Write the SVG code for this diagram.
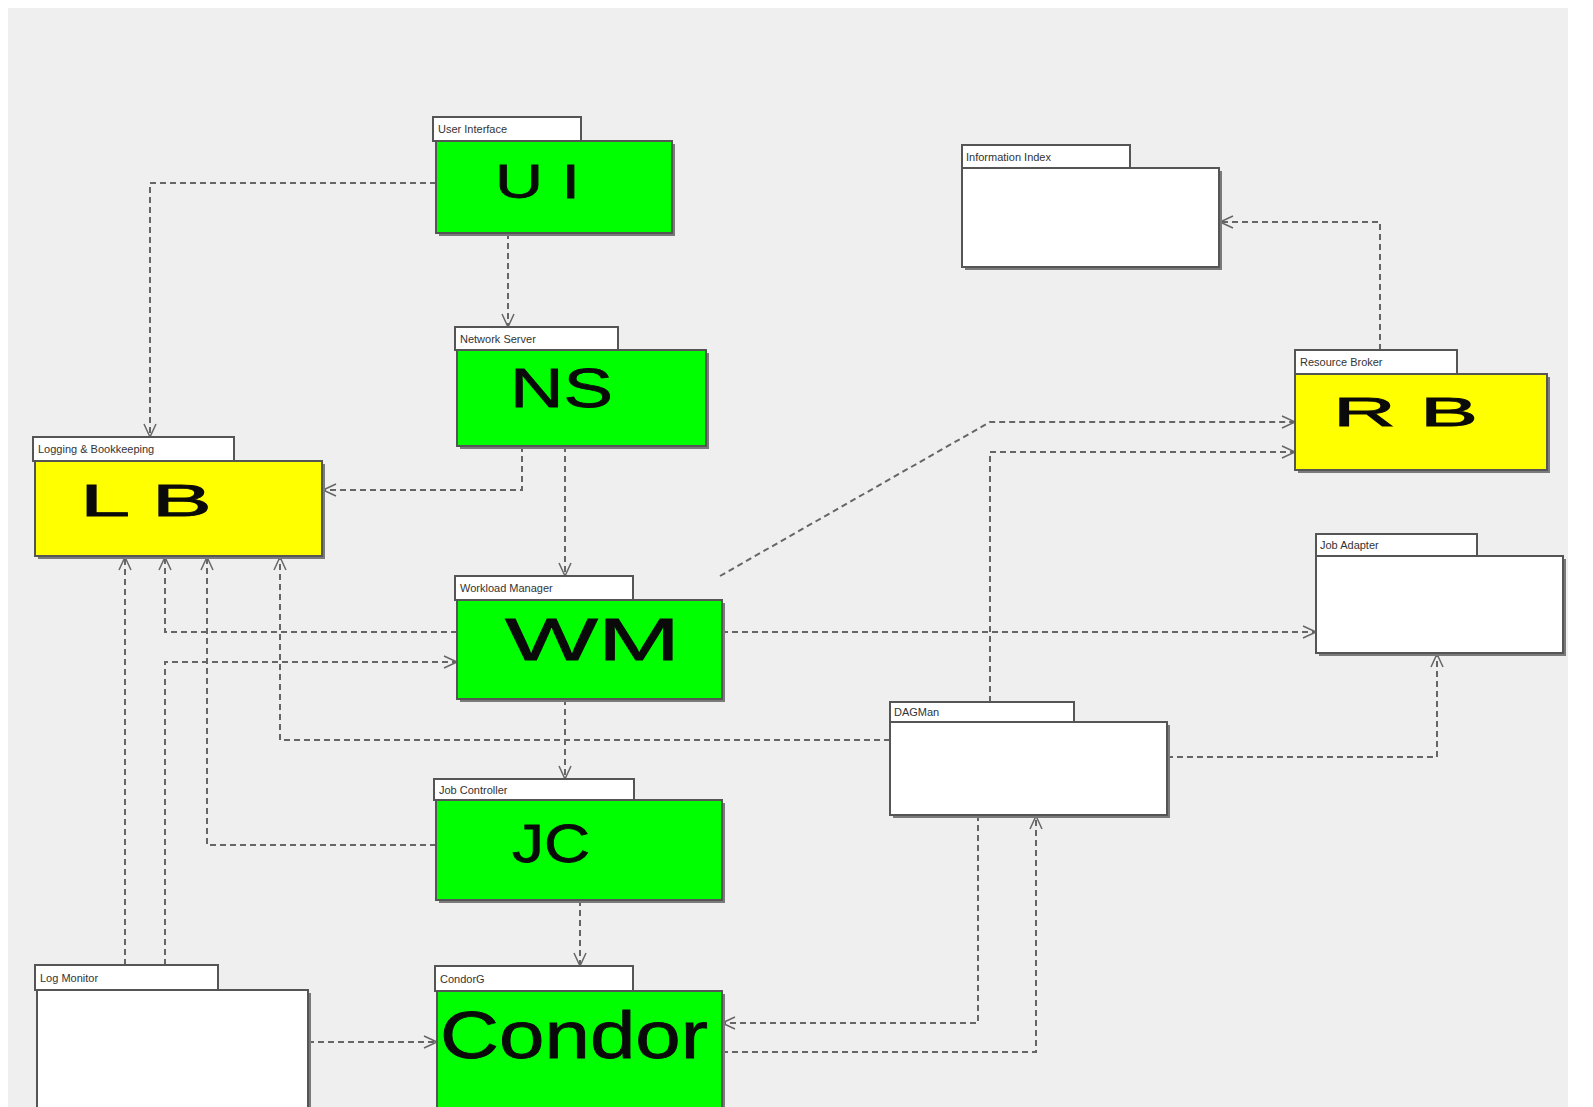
<svg xmlns="http://www.w3.org/2000/svg" width="1593" height="1107" viewBox="0 0 1593 1107">
<defs>
<style>
.tab{fill:#ffffff;stroke:#555555;stroke-width:2}
.body{stroke:#555555;stroke-width:2}
.shadow{fill:#7a7a7a}
.green{fill:#00ff00}
.yellow{fill:#ffff00}
.white{fill:#ffffff}
.tl{font-family:"Liberation Sans",Arial,sans-serif;font-size:11px;fill:#333333}
.big{font-family:"Liberation Sans",Arial,sans-serif;fill:#0a0a0a;stroke:#0a0a0a;stroke-width:0.8}
.c{fill:none;stroke:#666666;stroke-width:2;stroke-dasharray:6 4}
</style>
<marker id="a" markerWidth="16" markerHeight="14" refX="14" refY="7" orient="auto" markerUnits="userSpaceOnUse">
<path d="M1,1 L14,7 L1,13" fill="none" stroke="#666666" stroke-width="1.5"/>
</marker>
</defs>
<rect x="0" y="0" width="1593" height="1107" fill="#ffffff"/>
<rect x="8" y="8" width="1560" height="1099" fill="#efefef"/>

<g id="connectors">
<path class="c" d="M436,183 H150 V437" marker-end="url(#a)"/>
<path class="c" d="M508,233 V327" marker-end="url(#a)"/>
<path class="c" d="M522,446 V490 H323" marker-end="url(#a)"/>
<path class="c" d="M565,446 V576" marker-end="url(#a)"/>
<path class="c" d="M720,576 L990,422 H1295" marker-end="url(#a)"/>
<path class="c" d="M990,702 V452 H1295" marker-end="url(#a)"/>
<path class="c" d="M1380,350 V222 H1220" marker-end="url(#a)"/>
<path class="c" d="M722,632 H1316" marker-end="url(#a)"/>
<path class="c" d="M457,632 H165 V557" marker-end="url(#a)"/>
<path class="c" d="M165,965 V662 H457" marker-end="url(#a)"/>
<path class="c" d="M125,965 V557" marker-end="url(#a)"/>
<path class="c" d="M890,740 H280 V557" marker-end="url(#a)"/>
<path class="c" d="M436,845 H207 V557" marker-end="url(#a)"/>
<path class="c" d="M565,699 V779" marker-end="url(#a)"/>
<path class="c" d="M580,900 V966" marker-end="url(#a)"/>
<path class="c" d="M1167,757 H1437 V654" marker-end="url(#a)"/>
<path class="c" d="M308,1042 H437" marker-end="url(#a)"/>
<path class="c" d="M978,815 V1023 H722" marker-end="url(#a)"/>
<path class="c" d="M722,1052 H1036 V816" marker-end="url(#a)"/>
</g>

<g id="UI">
<rect class="tab" x="433" y="117" width="148" height="24"/>
<text class="tl" x="438" y="133">User Interface</text>
<rect class="shadow" x="439" y="144" width="236" height="92"/>
<rect class="body green" x="436" y="141" width="236" height="92"/>
<text class="big" x="495" y="198" font-size="49" textLength="85" lengthAdjust="spacingAndGlyphs">U I</text>
</g>

<g id="InformationIndex">
<rect class="tab" x="962" y="145" width="168" height="23"/>
<text class="tl" x="966" y="161">Information Index</text>
<rect class="shadow" x="965" y="171" width="257" height="99"/>
<rect class="body white" x="962" y="168" width="257" height="99"/>
</g>

<g id="NS">
<rect class="tab" x="455" y="327" width="163" height="23"/>
<text class="tl" x="460" y="343">Network Server</text>
<rect class="shadow" x="460" y="353" width="249" height="96"/>
<rect class="body green" x="457" y="350" width="249" height="96"/>
<text class="big" x="510" y="407" font-size="56" textLength="103" lengthAdjust="spacingAndGlyphs">NS</text>
</g>

<g id="LB">
<rect class="tab" x="33" y="437" width="201" height="24"/>
<text class="tl" x="38" y="453">Logging &amp; Bookkeeping</text>
<rect class="shadow" x="38" y="464" width="287" height="95"/>
<rect class="body yellow" x="35" y="461" width="287" height="95"/>
<text class="big" x="80" y="516" font-size="44" textLength="132" lengthAdjust="spacingAndGlyphs">L B</text>
</g>

<g id="RB">
<rect class="tab" x="1295" y="350" width="162" height="24"/>
<text class="tl" x="1300" y="366">Resource Broker</text>
<rect class="shadow" x="1298" y="377" width="252" height="96"/>
<rect class="body yellow" x="1295" y="374" width="252" height="96"/>
<text class="big" x="1333" y="426" font-size="40" textLength="145" lengthAdjust="spacingAndGlyphs">R B</text>
</g>

<g id="WM">
<rect class="tab" x="455" y="576" width="178" height="24"/>
<text class="tl" x="460" y="592">Workload Manager</text>
<rect class="shadow" x="460" y="603" width="265" height="99"/>
<rect class="body green" x="457" y="600" width="265" height="99"/>
<text class="big" x="505" y="660" font-size="59" textLength="175" lengthAdjust="spacingAndGlyphs">WM</text>
</g>

<g id="JobAdapter">
<rect class="tab" x="1316" y="534" width="161" height="22"/>
<text class="tl" x="1320" y="549">Job Adapter</text>
<rect class="shadow" x="1319" y="559" width="247" height="97"/>
<rect class="body white" x="1316" y="556" width="247" height="97"/>
</g>

<g id="DAGMan">
<rect class="tab" x="890" y="702" width="184" height="20"/>
<text class="tl" x="894" y="716">DAGMan</text>
<rect class="shadow" x="893" y="725" width="277" height="93"/>
<rect class="body white" x="890" y="722" width="277" height="93"/>
</g>

<g id="JC">
<rect class="tab" x="434" y="779" width="200" height="21"/>
<text class="tl" x="439" y="794">Job Controller</text>
<rect class="shadow" x="439" y="803" width="286" height="100"/>
<rect class="body green" x="436" y="800" width="286" height="100"/>
<text class="big" x="512" y="862" font-size="54" textLength="78" lengthAdjust="spacingAndGlyphs">JC</text>
</g>

<g id="LogMonitor">
<rect class="tab" x="35" y="965" width="183" height="25"/>
<text class="tl" x="40" y="982">Log Monitor</text>
<rect class="shadow" x="40" y="993" width="271" height="120"/>
<rect class="body white" x="37" y="990" width="271" height="120"/>
</g>

<g id="Condor">
<rect class="tab" x="435" y="966" width="198" height="25"/>
<text class="tl" x="440" y="983">CondorG</text>
<rect class="shadow" x="440" y="994" width="285" height="120"/>
<rect class="body green" x="437" y="991" width="285" height="120"/>
<text class="big" x="440" y="1058" font-size="67" textLength="268" lengthAdjust="spacingAndGlyphs">Condor</text>
</g>
</svg>
